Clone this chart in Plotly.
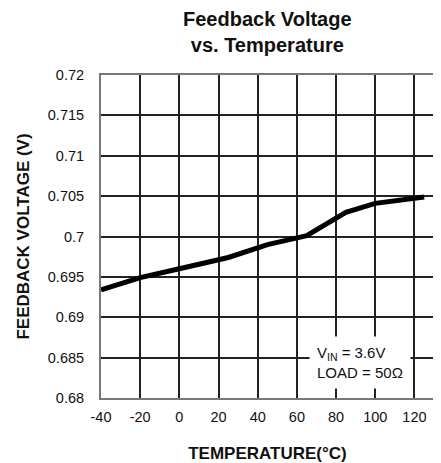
import plotly.graph_objects as go

temperature_c = [-40, -20, 0, 25, 45, 65, 85, 100, 125]
feedback_v = [0.6934, 0.6949, 0.6960, 0.6974, 0.6990, 0.7001, 0.7030, 0.7041, 0.7049]

x_tick_vals = [-40, -20, 0, 20, 40, 60, 80, 100, 120]
x_tick_text = ["-40", "-20", "0", "20", "40", "60", "80", "100", "120"]
y_tick_vals = [0.68, 0.685, 0.69, 0.695, 0.70, 0.705, 0.71, 0.715, 0.72]
y_tick_text = ["0.68", "0.685", "0.69", "0.695", "0.7", "0.705", "0.71", "0.715", "0.72"]

FONT = "Liberation Sans, Arial, Helvetica, sans-serif"
# the page body has an 8px margin, so the figure is sized/offset to compensate
FIG_W, FIG_H = 433, 455
M_L, M_R, M_T, M_B = 93, 7, 67, 65
PLOT_H = FIG_H - M_T - M_B

fig = go.Figure()
fig.add_trace(go.Scatter(
    x=temperature_c, y=feedback_v, mode="lines",
    line=dict(color="black", width=5),
    hoverinfo="skip", showlegend=False,
))

# condition note
fig.add_annotation(
    x=92, y=0.6844, xref="x", yref="y", xanchor="center", yanchor="middle",
    text="V<sub>IN</sub> = 3.6V<br>LOAD = 50Ω",
    showarrow=False, align="left",
    font=dict(family=FONT, size=15, color="#111"),
    bgcolor="white", borderpad=7,
)

# chart title
fig.add_annotation(
    x=0.5, y=1 + 43 / PLOT_H, xref="paper", yref="paper",
    xanchor="center", yanchor="middle",
    text="<b>Feedback Voltage<br>vs. Temperature</b>",
    showarrow=False, align="center",
    font=dict(family=FONT, size=20, color="#111"),
)

fig.update_layout(
    width=FIG_W, height=FIG_H,
    margin=dict(l=M_L, r=M_R, t=M_T, b=M_B),
    paper_bgcolor="white", plot_bgcolor="white",
    font=dict(family=FONT, color="#111"),
)

fig.update_xaxes(
    range=[-40, 130], tickvals=x_tick_vals, ticktext=x_tick_text,
    showgrid=True, gridcolor="#222", gridwidth=1.5,
    showline=True, linecolor="#777", linewidth=2, mirror=True,
    zeroline=False, ticks="", ticklabelstandoff=5, automargin=False,
    tickfont=dict(family=FONT, size=14.5, color="#111"),
    title=dict(text="<b>TEMPERATURE(°C)</b>", standoff=24,
               font=dict(family=FONT, size=17, color="#111")),
)
fig.update_yaxes(
    range=[0.68, 0.72], tickvals=y_tick_vals, ticktext=y_tick_text,
    showgrid=True, gridcolor="#222", gridwidth=1.5,
    showline=True, linecolor="#777", linewidth=2, mirror=True,
    zeroline=False, ticks="", ticklabelstandoff=12, automargin=False,
    tickfont=dict(family=FONT, size=14.5, color="#111"),
    title=dict(text="<b>FEEDBACK VOLTAGE (V)</b>", standoff=14,
               font=dict(family=FONT, size=17, color="#111")),
)

fig.write_html("out.html")
